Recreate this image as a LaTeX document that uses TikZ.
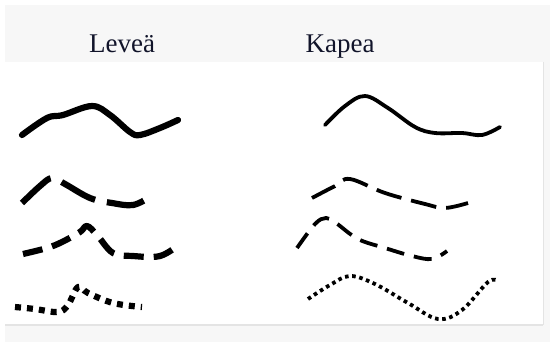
\documentclass[tikz,border=0pt]{standalone}
\usepackage{fontspec}
\setmainfont{Liberation Serif}
\definecolor{bandgray}{HTML}{F7F7F7}
\definecolor{edgegray}{HTML}{E4E4E4}
\definecolor{titleblue}{HTML}{11142A}
\tikzset{
  wide/.style={line width=3.1pt, line cap=round, line join=round},
  narrow/.style={line width=1.9pt, line cap=round, line join=round},
  title/.style={font=\fontsize{13.5pt}{15pt}\selectfont, text=titleblue, inner sep=0pt, anchor=base}
}
\begin{document}
\begin{tikzpicture}[x=0.5pt,y=-0.5pt]
\useasboundingbox (0,0) rectangle (550,342);
\fill[white] (0,0) rectangle (550,342);
\fill[bandgray] (5,5) rectangle (550,62);
\fill[bandgray] (543,62) rectangle (550,342);
\fill[bandgray] (5,325) rectangle (550,342);
\draw[edgegray, line width=1pt] (5,325) -- (543,325);
\draw[edgegray, line width=0.5pt] (543,62) -- (543,325);

\node[title] (lev) at (122,53) {Leveä};
\node[title] (kap) at (340,53) {Kapea};

% left column (wide)
\draw[wide] plot[smooth, tension=0.6] coordinates {(22,135) (47,118) (63,115) (92,106) (110,115) (130,132) (140,135) (160,128) (178,120)};
\draw[wide, line cap=butt, dash pattern=on 19pt off 6pt] plot[smooth, tension=0.6] coordinates {(22,203) (40,186) (52,178) (65,184) (90,198) (112,203) (133,205) (150,197)};
\draw[wide, line cap=butt, dash pattern=on 10pt off 5pt] plot[smooth, tension=0.6] coordinates {(23,254) (47,248) (62,242) (80,232) (87,226) (97,235) (113,253) (133,256) (160,256) (180,244)};
\draw[wide, line cap=butt, dash pattern=on 3pt off 3pt] plot[smooth, tension=0.6] coordinates {(15,307) (35,309) (58,312) (68,305) (78,287) (88,293) (113,303) (142,307)};

% right column (narrow)
\draw[narrow] plot[smooth, tension=0.6] coordinates {(325,125) (345,106) (365,96) (388,108) (415,127) (435,133) (462,133) (482,135) (500,127)};
\draw[narrow, line cap=butt, dash pattern=on 13pt off 5pt] plot[smooth, tension=0.6] coordinates {(312,198) (335,186) (350,179) (385,193) (425,204) (445,208) (468,203)};
\draw[narrow, line cap=butt, dash pattern=on 9pt off 5pt] plot[smooth, tension=0.6] coordinates {(297,248) (315,224) (326,218) (336,223) (358,239) (385,248) (412,256) (432,259) (447,251)};
\draw[narrow, line cap=butt, dash pattern=on 1.8pt off 1.8pt] plot[smooth, tension=0.6] coordinates {(308,299) (330,285) (350,276) (375,284) (408,303) (438,319) (462,310) (488,282) (498,281)};
\end{tikzpicture}
\end{document}
